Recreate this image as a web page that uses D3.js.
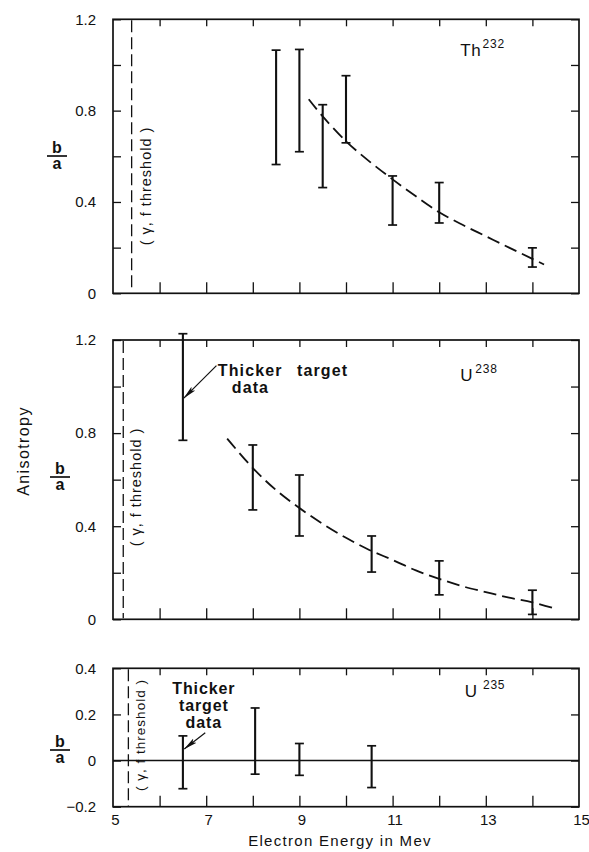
<!DOCTYPE html>
<html><head><meta charset="utf-8">
<script src="https://cdn.jsdelivr.net/npm/d3@7"></script>
<style>
body{margin:0;background:#fff}
text{font-family:"Liberation Sans",Arial,sans-serif;fill:#111}
</style>
</head><body><svg id="c" width="589" height="852"></svg>
<script>
// ---------- data ----------
const energyTicks = [6, 7, 8, 9, 10, 11, 12, 13, 14];
const energyLabelValues = [5, 7, 9, 11, 13, 15];
const energyLabelText = ["5", "7", "9", "11", "13", "15"];

const bigYTicks = [0, 0.2, 0.4, 0.6, 0.8, 1.0, 1.2];
const bigYLabelValues = [0, 0.4, 0.8, 1.2];
const bigYLabelText = ["0", "0.4", "0.8", "1.2"];
const smallYTicks = [-0.2, 0, 0.2, 0.4];
const smallYLabelValues = [-0.2, 0, 0.2, 0.4];
const smallYLabelText = ["\u22120.2", "0", "0.2", "0.4"];

// Th232
const thEnergy = [8.5, 9, 9.5, 10, 11, 12, 14];
const thHigh   = [1.065, 1.068, 0.826, 0.953, 0.514, 0.485, 0.199];
const thLow    = [0.564, 0.620, 0.463, 0.659, 0.299, 0.308, 0.115];
const thCurveE = [9.2, 9.5, 10, 10.5, 11, 11.5, 12, 12.5, 13, 13.5, 14, 14.25];
const thCurveV = [0.85, 0.775, 0.666, 0.578, 0.499, 0.425, 0.355, 0.30, 0.25, 0.20, 0.151, 0.126];
const thThreshold = 5.40;

// U238
const u8Energy = [6.5, 8, 9, 10.55, 12, 14];
const u8High   = [1.227, 0.749, 0.620, 0.358, 0.251, 0.125];
const u8Low    = [0.769, 0.470, 0.358, 0.203, 0.105, 0.021];
const u8CurveE = [7.45, 8, 8.5, 9, 9.5, 10, 10.5, 11, 11.5, 12, 12.5, 13, 13.5, 14, 14.5];
const u8CurveV = [0.776, 0.650, 0.555, 0.478, 0.410, 0.350, 0.298, 0.255, 0.210, 0.174, 0.142, 0.117, 0.093, 0.073, 0.045];
const u8Threshold = 5.22;

// U235
const u5Energy = [6.5, 8.05, 9, 10.55];
const u5High   = [0.107, 0.228, 0.074, 0.064];
const u5Low    = [-0.122, -0.059, -0.064, -0.117];
const u5Threshold = 5.33;

// ---------- drawing ----------
const svg = d3.select("#c");
const x = d3.scaleLinear([5, 15], [113, 579]);

svg.append("defs").append("marker")
  .attr("id", "arr").attr("viewBox", "0 0 14 8")
  .attr("markerWidth", 14).attr("markerHeight", 8)
  .attr("refX", 13.5).attr("refY", 4).attr("orient", "auto")
  .attr("markerUnits", "userSpaceOnUse")
  .append("path").attr("d", "M0,1.3 L14,4 L0,6.7 L3,4 Z").attr("fill", "#111");

function clean(sel) {
  sel.select(".domain").remove();
  sel.selectAll(".tick line").attr("stroke", "#111").attr("stroke-width", 1.3);
  sel.selectAll(".tick text").attr("font-size", 15).attr("fill", "#111")
     .attr("font-family", "Liberation Sans, Arial, sans-serif");
}

function panel(cfg) {
  const y = d3.scaleLinear(cfg.domain, [cfg.bottom, cfg.top]);
  const g = svg.append("g");
  const [x0, x1] = x.range();

  g.append("g").attr("transform", `translate(0,${cfg.bottom})`)
    .call(d3.axisBottom(x).tickValues(energyTicks).tickSize(-11).tickFormat("")).call(clean);
  g.append("g").attr("transform", `translate(0,${cfg.top})`)
    .call(d3.axisTop(x).tickValues(energyTicks).tickSize(-7).tickFormat("")).call(clean);
  const lab = new Map(cfg.labelValues.map((v, i) => [v, cfg.labelText[i]]));
  g.append("g").attr("transform", `translate(${x0},0)`)
    .call(d3.axisLeft(y).tickValues(cfg.yTicks).tickSize(-8).tickPadding(17)
      .tickFormat(d => lab.has(d) ? lab.get(d) : "")).call(clean);
  g.append("g").attr("transform", `translate(${x1},0)`)
    .call(d3.axisRight(y).tickValues(cfg.yTicks).tickSize(-8).tickFormat("")).call(clean);

  g.append("rect").attr("x", x0).attr("y", cfg.top)
    .attr("width", x1 - x0).attr("height", cfg.bottom - cfg.top)
    .attr("fill", "none").attr("stroke", "#111").attr("stroke-width", 1.7);

  // threshold
  g.append("line").attr("x1", x(cfg.threshold)).attr("x2", x(cfg.threshold))
    .attr("y1", cfg.top + 1).attr("y2", cfg.bottom - 1)
    .attr("stroke", "#111").attr("stroke-width", 1.3).attr("stroke-dasharray", "12,5");
  g.append("text")
    .attr("transform", `translate(${cfg.thrTextX},${cfg.thrTextY}) rotate(-90)`)
    .attr("text-anchor", "middle").attr("dominant-baseline", "central")
    .attr("font-size", cfg.thrFont).attr("letter-spacing", 1)
    .text("( \u03b3, f  threshold )");

  // fraction label b/a
  const fx = cfg.fracX, fy = cfg.fracY;
  g.append("text").attr("x", fx).attr("y", fy - 3).attr("text-anchor", "middle")
    .attr("font-size", 16).attr("font-weight", "bold").text("b");
  g.append("line").attr("x1", fx - 10).attr("x2", fx + 10).attr("y1", fy).attr("y2", fy)
    .attr("stroke", "#111").attr("stroke-width", 1.7);
  g.append("text").attr("x", fx).attr("y", fy + 13).attr("text-anchor", "middle")
    .attr("font-size", 16).attr("font-weight", "bold").text("a");

  if (cfg.zeroLine) {
    g.append("line").attr("x1", x0).attr("x2", x1).attr("y1", y(0)).attr("y2", y(0))
      .attr("stroke", "#111").attr("stroke-width", 1.5);
  }

  // curve
  if (cfg.curveE) {
    const pts = cfg.curveE.map((e, i) => [e, cfg.curveV[i]]);
    g.append("path").datum(pts)
      .attr("d", d3.line().x(d => x(d[0])).y(d => y(d[1])).curve(d3.curveCatmullRom))
      .attr("fill", "none").attr("stroke", "#111").attr("stroke-width", 1.8)
      .attr("stroke-dasharray", "13,6");
  }

  // error bars
  const bars = g.selectAll(".eb").data(cfg.energy.map((e, i) => ({e, hi: cfg.high[i], lo: cfg.low[i]})))
    .join("g").attr("class", "eb");
  bars.append("line").attr("x1", d => x(d.e)).attr("x2", d => x(d.e))
    .attr("y1", d => y(d.hi)).attr("y2", d => y(d.lo))
    .attr("stroke", "#111").attr("stroke-width", 2.1);
  ["hi", "lo"].forEach(k => {
    bars.append("line").attr("x1", d => x(d.e) - 4.5).attr("x2", d => x(d.e) + 4.5)
      .attr("y1", d => y(d[k])).attr("y2", d => y(d[k]))
      .attr("stroke", "#111").attr("stroke-width", 1.7);
  });

  // isotope label
  const t = g.append("text").attr("x", x(cfg.isoE)).attr("y", cfg.isoY).attr("font-size", 17)
    .attr("letter-spacing", 0.8);
  t.append("tspan").text(cfg.isoName);
  t.append("tspan").attr("dx", cfg.isoGap).attr("dy", -8).attr("font-size", 12).text(cfg.isoMass);

  return {g, y};
}

// Th232
panel({
  top: 19.3, bottom: 293.3, domain: [0, 1.2],
  yTicks: bigYTicks, labelValues: bigYLabelValues, labelText: bigYLabelText,
  threshold: thThreshold, thrTextX: 146, thrTextY: 186, thrFont: 14.5,
  fracX: 57, fracY: 156,
  energy: thEnergy, high: thHigh, low: thLow, curveE: thCurveE, curveV: thCurveV,
  isoE: 12.45, isoY: 56, isoName: "Th", isoMass: "232", isoGap: 1
});

// U238
const pU8 = panel({
  top: 340, bottom: 619.3, domain: [0, 1.2],
  yTicks: bigYTicks, labelValues: bigYLabelValues, labelText: bigYLabelText,
  threshold: u8Threshold, thrTextX: 136, thrTextY: 487, thrFont: 14.5,
  fracX: 60, fracY: 477,
  energy: u8Energy, high: u8High, low: u8Low, curveE: u8CurveE, curveV: u8CurveV,
  isoE: 12.45, isoY: 381, isoName: "U", isoMass: "238", isoGap: 2
});
{
  const {g, y} = pU8;
  g.append("text").attr("x", x(7.25)).attr("y", y(1.045)).attr("font-size", 16)
    .attr("font-weight", "bold").attr("letter-spacing", 1.1)
    .text("Thicker\u2002 target");
  g.append("text").attr("x", x(7.95)).attr("y", y(0.972)).attr("font-size", 16)
    .attr("font-weight", "bold").attr("letter-spacing", 1.1).attr("text-anchor", "middle")
    .text("data");
  g.append("line").attr("x1", x(7.22)).attr("y1", y(1.09)).attr("x2", x(6.52)).attr("y2", y(0.95))
    .attr("stroke", "#111").attr("stroke-width", 1.2).attr("marker-end", "url(#arr)");
}

// U235
const pU5 = panel({
  top: 668.3, bottom: 806.7, domain: [-0.2, 0.4],
  yTicks: smallYTicks, labelValues: smallYLabelValues, labelText: smallYLabelText,
  threshold: u5Threshold, thrTextX: 140, thrTextY: 735, thrFont: 13.5,
  fracX: 60, fracY: 750,
  energy: u5Energy, high: u5High, low: u5Low, zeroLine: true,
  isoE: 12.55, isoY: 697, isoName: "U", isoMass: "235", isoGap: 5
});
{
  const {g, y} = pU5;
  const lines = ["Thicker", "target", "data"];
  const lineV = [0.289, 0.216, 0.140];
  lines.forEach((s, i) => {
    g.append("text").attr("x", x(6.95)).attr("y", y(lineV[i])).attr("font-size", 16)
      .attr("font-weight", "bold").attr("letter-spacing", 0.9).attr("text-anchor", "middle").text(s);
  });
  g.append("line").attr("x1", x(6.98)).attr("y1", y(0.121)).attr("x2", x(6.53)).attr("y2", y(0.05))
    .attr("stroke", "#111").attr("stroke-width", 1.2).attr("marker-end", "url(#arr)");

  // x tick labels
  const lab = new Map(energyLabelValues.map((v, i) => [v, energyLabelText[i]]));
  svg.append("g").attr("transform", "translate(2,806.7)")
    .call(d3.axisBottom(x).tickValues(energyLabelValues).tickSize(0).tickPadding(8)
      .tickFormat(d => lab.get(d))).call(clean);
}

// axis titles
svg.append("text").attr("x", 340).attr("y", 846).attr("text-anchor", "middle")
  .attr("font-size", 15).attr("letter-spacing", 1.3).text("Electron Energy in Mev");
svg.append("text").attr("transform", "translate(23,451) rotate(-90)")
  .attr("text-anchor", "middle").attr("dominant-baseline", "central")
  .attr("font-size", 16).attr("letter-spacing", 1.4).text("Anisotropy");
</script>
</body></html>
